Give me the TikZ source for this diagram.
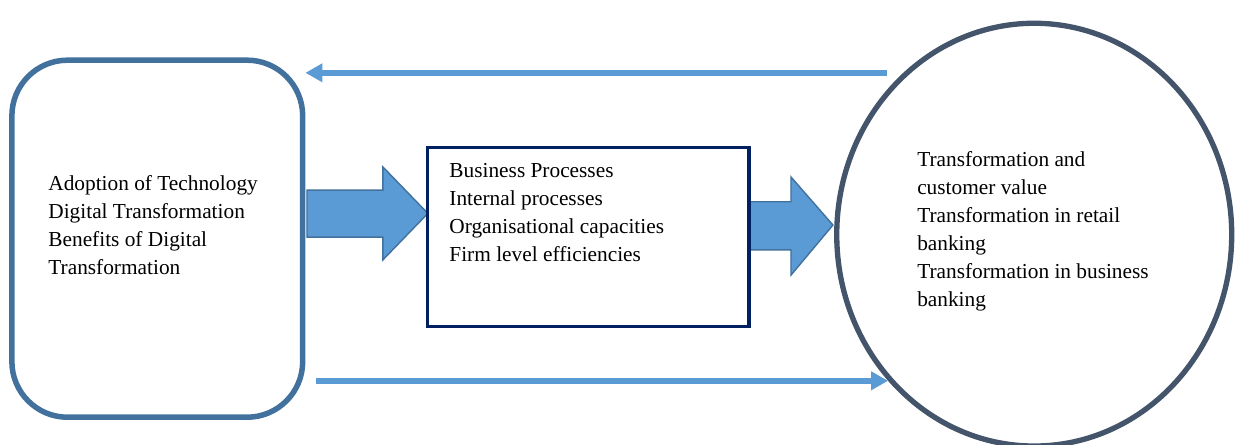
\documentclass[tikz,border=0pt]{standalone}
\usepackage{fontspec}
\setmainfont{Liberation Serif}
\usetikzlibrary{shapes.geometric,arrows.meta}

\definecolor{boxblue}{HTML}{41719C}
\definecolor{arrowblue}{HTML}{5B9BD5}
\definecolor{navy}{HTML}{002060}
\definecolor{slate}{HTML}{44546A}

\begin{document}
\begin{tikzpicture}
\tikzset{ >={Triangle[length=9.5pt,width=10pt]}, font=\fontsize{12}{15.75}\selectfont, }
\tikzset{ flow/.style={->, draw=arrowblue, line width=3.2pt},
          block/.style={fill=arrowblue, draw=boxblue, line width=0.8pt},
          txt/.style={align=left, anchor=west, inner sep=0pt} }

\useasboundingbox (0,0) rectangle (24.42,8.78);

%\draw [lightgray, dashed](0,0) grid (24,8);

% fat arrows first, the boxes sit on top of their ends
\draw [block] (6.07,5.02) -- (7.57,5.02) -- (7.57,5.48) -- (8.46,4.56)
              -- (7.57,3.64) -- (7.57,4.09) -- (6.07,4.09) -- cycle;
\draw [block] (14.83,4.79) -- (15.64,4.79) -- (15.64,5.28) -- (16.47,4.33)
              -- (15.64,3.34) -- (15.64,3.84) -- (14.83,3.84) -- cycle;

\node [draw=boxblue, line width=3.1pt, rounded corners=1.1cm,
       minimum width=5.75cm, minimum height=7.06cm] (A) at (3.11,4.06) {};
\node [draw=navy, line width=1.7pt,
       minimum width=6.36cm, minimum height=3.54cm] (P) at (11.63,4.10) {};
\node [draw=slate, line width=3pt, ellipse,
       minimum width=7.81cm, minimum height=8.36cm] (T) at (20.45,4.14) {};

\node [txt] (At) at (0.95,4.33) {Adoption of Technology\\Digital Transformation\\Benefits of Digital\\Transformation};
\node [txt] (Pt) at (8.88,4.57) {Business Processes\\Internal processes\\Organisational capacities\\Firm level efficiencies};
\node [txt] (Tt) at (18.13,4.21) {Transformation and\\customer value\\Transformation in retail\\banking\\Transformation in business\\banking};

% feedback and feed-forward lines
\coordinate (r) at (17.54,7.34);
\coordinate (s) at (6.25,1.25);
\coordinate (e) at (17.56,1.25);

\draw [flow] (r) -- (A.east |- r);
\draw [flow] (s) -- (e);
\end{tikzpicture}
\end{document}
